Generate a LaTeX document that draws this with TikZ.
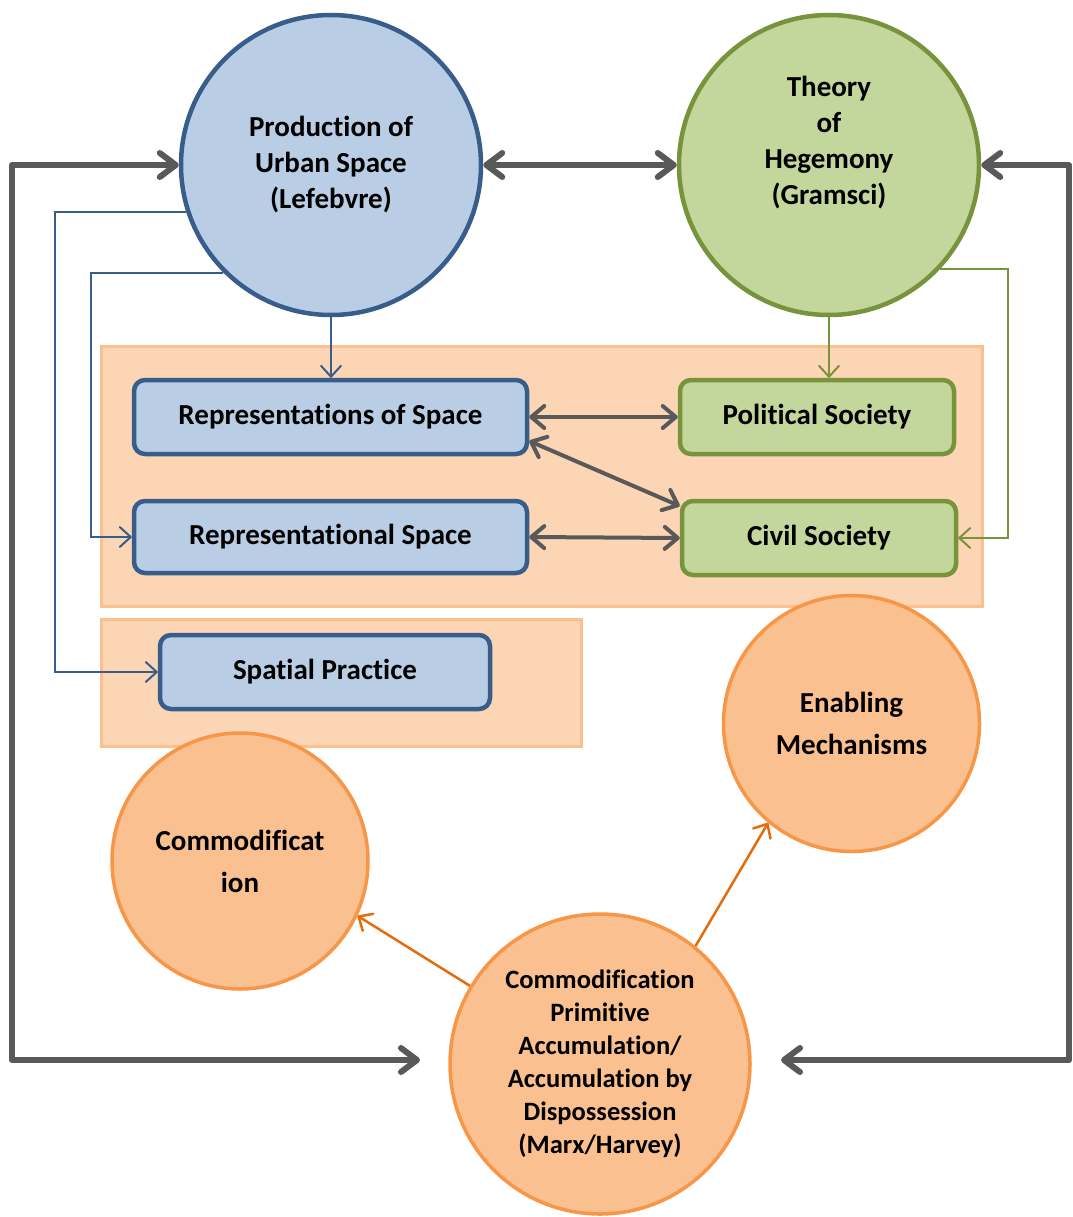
\documentclass[tikz,border=0pt]{standalone}
\usepackage{fontspec}
\setmainfont[Ligatures=NoCommon]{Carlito}
\usetikzlibrary{arrows.meta}
\definecolor{bluefill}{HTML}{B9CDE5}
\definecolor{blueline}{HTML}{385D8A}
\definecolor{greenfill}{HTML}{C3D69B}
\definecolor{greenline}{HTML}{77933C}
\definecolor{orfill}{HTML}{FAC090}
\definecolor{orline}{HTML}{F79646}
\definecolor{panelfill}{HTML}{FCD5B5}
\definecolor{panelline}{HTML}{FAC090}
\definecolor{graylink}{HTML}{595959}
\definecolor{orlink}{HTML}{E46C0A}
\tikzset{
  bigtip/.tip={Straight Barb[length=16pt,width=24pt,round]},
  midtip/.tip={Straight Barb[length=13pt,width=22pt,round]},
  smalltip/.tip={Straight Barb[length=11pt,width=20pt,round]},
  circ/.style={circle, inner sep=0pt, align=center, text=black},
  bluecirc/.style={circ, fill=bluefill, draw=blueline, line width=4.5pt, minimum size=300pt},
  greencirc/.style={circ, fill=greenfill, draw=greenline, line width=4.5pt, minimum size=300pt},
  orcirc/.style={circ, fill=orfill, draw=orline, line width=3.5pt},
  boxb/.style={rectangle, rounded corners=11pt, line width=4.5pt, align=center, inner sep=0pt},
  bluebox/.style={boxb, fill=bluefill, draw=blueline},
  greenbox/.style={boxb, fill=greenfill, draw=greenline},
  panel/.style={rectangle, fill=panelfill, draw=panelline, line width=3pt, inner sep=0pt},
  txt/.style={font=\bfseries\fontsize{29}{36}\selectfont},
  wtxt/.style={font=\bfseries\fontsize{29}{42}\selectfont},
  stxt/.style={font=\bfseries\fontsize{26.5}{33}\selectfont},
  glink/.style={draw=graylink, line width=6pt, line join=round, bigtip-bigtip},
  gslink/.style={draw=graylink, line width=4pt, midtip-midtip},
  blink/.style={draw=blueline, line width=2pt, -smalltip},
  grlink/.style={draw=greenline, line width=2pt, -smalltip},
  olink/.style={draw=orlink, line width=2.5pt, -smalltip},
}
\begin{document}
\begin{tikzpicture}[x=1pt,y=-1pt]
\useasboundingbox (0,0) rectangle (1072,1217);
% panels
\node[panel, minimum width=881pt, minimum height=260pt] (panelA) at (541.5,476) {};
\node[panel, minimum width=480pt, minimum height=127pt] (panelB) at (341,682.5) {};
% big circles
\node[bluecirc, txt] (prod) at (331,165) {Production of\\Urban Space\\(Lefebvre)};
\node[greencirc] (theory) at (829,165) {};
\node[txt, align=center] (theorytext) at (829,143) {Theory\\of\\Hegemony\\(Gramsci)};
% boxes
\node[bluebox, txt, minimum width=393pt, minimum height=74pt] (reps) at (330.5,417) {Representations of Space};
\node[bluebox, txt, minimum width=393pt, minimum height=72pt] (repl) at (330.5,537) {Representational Space};
\node[bluebox, txt, minimum width=330pt, minimum height=74pt] (spat) at (325,672) {Spatial Practice};
\node[greenbox, txt, minimum width=274pt, minimum height=74pt] (pol) at (817,417) {Political Society};
\node[greenbox, txt, minimum width=274pt, minimum height=74pt] (civ) at (819,538) {Civil Society};
% orange circles
\node[orcirc, wtxt, minimum size=256pt] (enab) at (851.5,723.5) {Enabling\\Mechanisms};
\node[orcirc, wtxt, minimum size=256pt] (comm) at (240,861) {Commodificat\\ion};
\node[orcirc, stxt, minimum size=300pt] (prim) at (600,1064) {Commodification\\Primitive\\Accumulation/\\Accumulation by\\Dispossession\\(Marx/Harvey)};
% coordinates
\coordinate (lcorner) at (12,1060);
\coordinate (rcorner) at (1069,1060);
\coordinate (lb) at (420,1060);
\coordinate (rb) at (781,1060);
\coordinate (bx1) at (55,0);
\coordinate (bx2) at (91,0);
\coordinate (gx1) at (1008,0);
% gray links
\draw[glink] (prod) -- (theory);
\draw[glink] (prod.west) -| (lcorner) -- (lb);
\draw[glink] (theory.east) -| (rcorner) -- (rb);
\draw[gslink] (reps.east) -- (pol.west);
\draw[gslink] (repl.east) -- (civ.west);
\draw[gslink] ([yshift=-24pt]reps.east) -- ([yshift=32pt]civ.west);
% blue links
\draw[blink] (prod.south) -- (prod.south |- reps.north);
\draw[blink] (prod.198) -- (prod.198 -| bx1) |- (spat.west);
\draw[blink] (prod.225) -- (prod.225 -| bx2) |- (repl.west);
% green links
\draw[grlink] (theory.south) -- (theory.south |- pol.north);
\draw[grlink] (theory.-43) -- (theory.-43 -| gx1) |- (civ.east);
% orange links
\draw[olink] (prim.149) -- (comm.-25);
\draw[olink] (prim.51) -- (enab.-130);
\end{tikzpicture}
\end{document}
